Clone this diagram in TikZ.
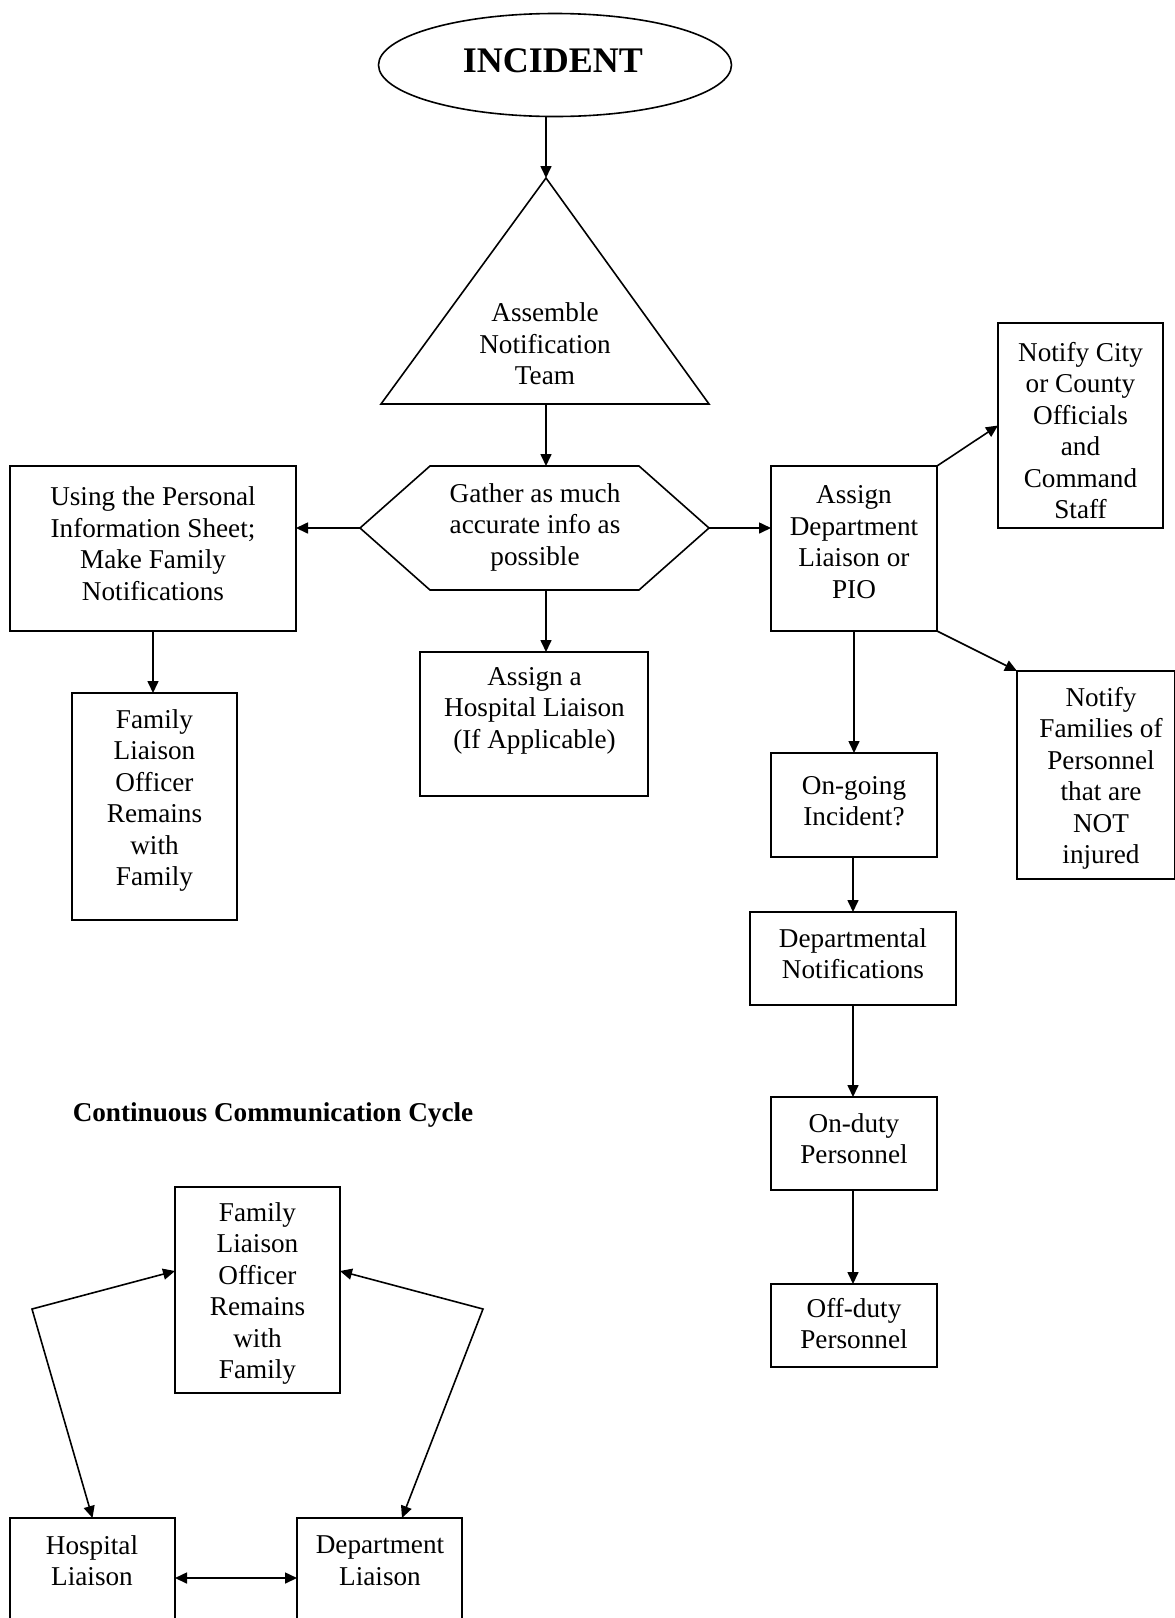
\documentclass[tikz,border=0pt]{standalone}
\usepackage{fontspec}
\setmainfont{Liberation Serif}
\usetikzlibrary{arrows.meta,shapes.geometric,calc}
\tikzset{
  box/.style={draw, rectangle, inner sep=0pt, outer sep=0pt},
  txt/.style={align=center, inner sep=0pt, font=\fontsize{27.2pt}{31.5pt}\selectfont},
  btxt/.style={align=center, inner sep=0pt, font=\fontsize{27.2pt}{31.5pt}\selectfont\bfseries},
  arr/.style={-{Triangle[length=12pt,width=11pt]}},
  darr/.style={{Triangle[length=12pt,width=11pt]}-{Triangle[length=12pt,width=11pt]}},
}
\begin{document}
\begin{tikzpicture}[x=1pt,y=-1pt,line width=1.6pt]
\useasboundingbox (0,0) rectangle (1175,1618);

% INCIDENT
\node[draw, ellipse, minimum width=353pt, minimum height=103pt, inner sep=0pt] (incident) at (555,65) {};
\node[inner sep=0pt, font=\fontsize{36pt}{42pt}\selectfont\bfseries] (incidentT) at (553,61) {INCIDENT};

% Triangle
\coordinate (triA) at (546,178);
\coordinate (triB) at (546,404);
\draw (triA) -- (709,404) -- (381,404) -- cycle;
\node[txt] (teamT) at (545,344) {Assemble\\Notification\\Team};

% Hexagon
\coordinate (gL) at (360,528);
\coordinate (gR) at (709,528);
\coordinate (gT) at (546,466);
\coordinate (gB) at (546,590);
\draw (gL) -- (430,466) -- (639,466) -- (gR) -- (639,590) -- (430,590) -- cycle;
\node[txt] (gatherT) at (535,527) {Gather as much\\accurate info as\\possible};

% Left box
\node[box, minimum width=286pt, minimum height=165pt] (info) at (153,548.5) {};
\node[txt] (infoT) at (153,543.5) {Using the Personal\\Information Sheet;\\Make Family\\Notifications};

% Family liaison (top)
\node[box, minimum width=165pt, minimum height=227pt] (fam) at (154.5,806.5) {};
\node[txt] (famT) at (154.5,800.5) {Family\\Liaison\\Officer\\Remains\\with\\Family};

% Hospital liaison assign
\node[box, minimum width=228pt, minimum height=144pt] (hosp) at (534,724) {};
\node[txt] (hospT) at (534.5,710.5) {Assign a\\Hospital Liaison\\(If Applicable)};

% Assign department liaison
\node[box, minimum width=166pt, minimum height=165pt] (assign) at (854,548.5) {};
\node[txt] (assignT) at (854,542) {Assign\\Department\\Liaison or\\PIO};

% Notify city
\node[box, minimum width=165pt, minimum height=205pt] (city) at (1080.5,425.5) {};
\node[txt] (cityT) at (1080.5,430.5) {Notify City\\or County\\Officials\\and\\Command\\Staff};

% Notify families
\node[box, minimum width=158pt, minimum height=208pt] (famn) at (1096,775) {};
\node[txt] (famnT) at (1101,778.5) {Notify\\Families of\\Personnel\\that are\\NOT\\injured};

% Right column
\node[box, minimum width=166pt, minimum height=104pt] (ongoing) at (854,805) {};
\node[txt] (ongoingT) at (854,801) {On-going\\Incident?};
\node[box, minimum width=206pt, minimum height=93pt] (deptn) at (853,958.5) {};
\node[txt] (deptnT) at (853,953.5) {Departmental\\Notifications};
\node[box, minimum width=166pt, minimum height=93pt] (onduty) at (854,1143.5) {};
\node[txt] (ondutyT) at (854,1138.5) {On-duty\\Personnel};
\node[box, minimum width=166pt, minimum height=83pt] (offduty) at (854,1325.5) {};
\node[txt] (offdutyT) at (854,1323.5) {Off-duty\\Personnel};

% Connectors top part
\draw[arr] (incident.south -| triA) -- (triA);
\draw[arr] (triB) -- (gT);
\draw[arr] (gL) -- (gL -| info.east);
\draw[arr] (gR) -- (gR -| assign.west);
\draw[arr] (gB) -- (hosp.north -| gB);
\draw[arr] (info.south) -- (info.south |- fam.north);
\draw[arr] (assign.north east) -- (city.west);
\draw[arr] (assign.south east) -- (famn.north west);
\draw[arr] (assign.south) -- (assign.south |- ongoing.north);
\draw[arr] (ongoing.south -| deptn.north) -- (deptn.north);
\draw[arr] (deptn.south) -- (deptn.south |- onduty.north);
\draw[arr] (onduty.south -| deptn.south) -- (deptn.south |- offduty.north);

% Continuous Communication Cycle
\node[btxt] (cycT) at (273,1115) {Continuous Communication Cycle};
\node[box, minimum width=165pt, minimum height=206pt] (cfam) at (257.5,1290) {};
\node[txt] (cfamT) at (257.5,1293.5) {Family\\Liaison\\Officer\\Remains\\with\\Family};
\node[box, minimum width=165pt, minimum height=132pt] (hl) at (92.5,1584) {};
\node[txt] (hlT) at (92,1560.5) {Hospital\\Liaison};
\node[box, minimum width=165pt, minimum height=132pt] (dl) at (379.5,1584) {};
\node[txt] (dlT) at (380,1560.5) {Department\\Liaison};

\coordinate (cyc) at (0,1271);
\coordinate (hrow) at (0,1578);
\coordinate (bendL) at (32,1309);
\coordinate (bendR) at (483,1309);
\draw[darr] (cfam.west |- cyc) -- (bendL) -- (hl.north);
\draw[darr] (cfam.east |- cyc) -- (bendR) -- ($(dl.north)+(22.5,0)$);
\draw[darr] (hl.east |- hrow) -- (dl.west |- hrow);
\end{tikzpicture}
\end{document}
